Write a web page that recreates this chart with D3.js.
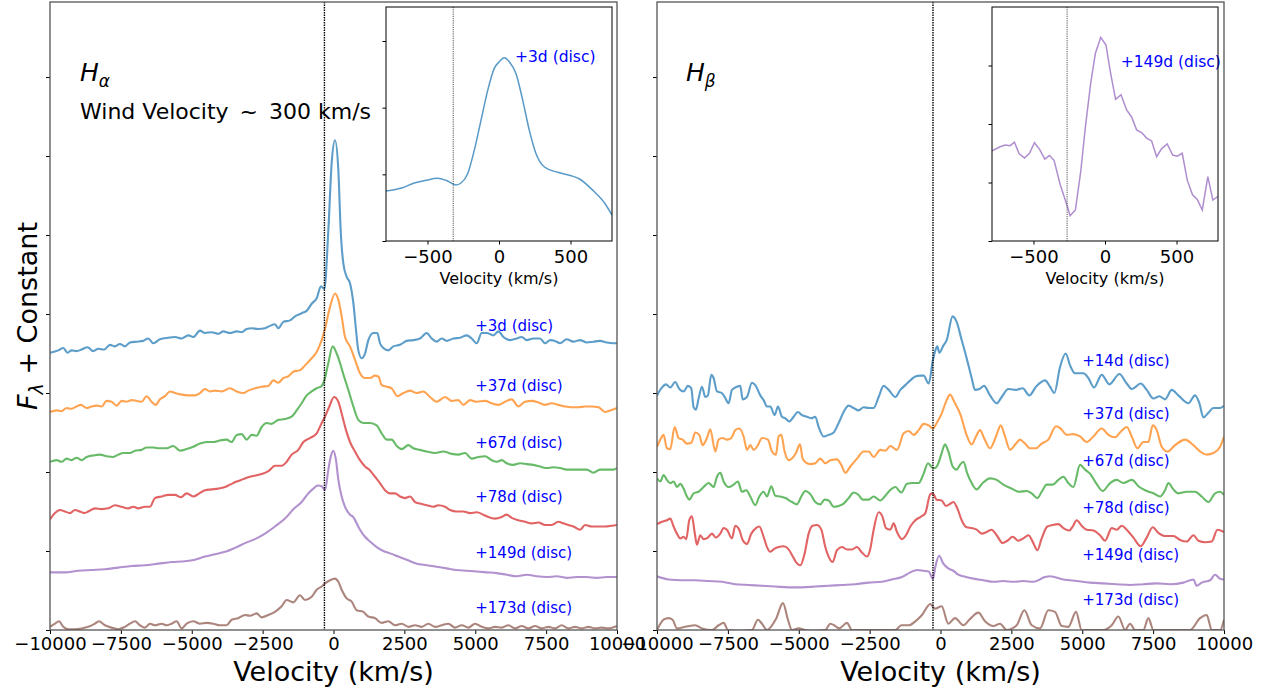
<!DOCTYPE html>
<html><head><meta charset="utf-8">
<script src="https://cdn.jsdelivr.net/npm/d3@7"></script>
<style>body{margin:0;background:#fff;} svg{display:block;font-family:"DejaVu Sans",sans-serif;}</style>
</head><body><svg id="c" width="1265" height="690"></svg>
<script>
// ---------------- DATA ----------------
const seriesColors = ["#1f77b4","#ff7f0e","#2ca02c","#d62728","#9467bd","#8c564b"];
const velTicks = [-10000,-7500,-5000,-2500,0,2500,5000,7500,10000];
const insetVelTicks = [-500,0,500];
const fluxTicks = [0,1,2,3,4,5,6,7];

// H-alpha epochs
const haLabels = ["+3d (disc)","+37d (disc)","+67d (disc)","+78d (disc)","+149d (disc)","+173d (disc)"];
const haLabelFlux = [3.78,3.02,2.31,1.62,0.91,0.21];
const haWind = -320;
const haDay3 = [[-10000,3.51],[-9708,3.54],[-9532,3.57],[-9379,3.51],[-9238,3.54],[-9062,3.53],[-8886,3.55],[-8674,3.58],[-8474,3.53],[-8297,3.56],[-8086,3.55],[-7886,3.61],[-7709,3.59],[-7533,3.62],[-7357,3.59],[-7180,3.64],[-6945,3.65],[-6710,3.66],[-6533,3.69],[-6357,3.63],[-6121,3.68],[-5827,3.70],[-5592,3.71],[-5357,3.69],[-5122,3.73],[-4945,3.71],[-4710,3.79],[-4534,3.76],[-4299,3.77],[-4063,3.75],[-3887,3.78],[-3652,3.76],[-3417,3.78],[-3240,3.77],[-3064,3.81],[-2887,3.82],[-2652,3.81],[-2417,3.82],[-2240,3.85],[-2064,3.87],[-1946,3.82],[-1770,3.90],[-1535,3.92],[-1358,3.97],[-1123,4.01],[-947,4.04],[-770,4.13],[-594,4.20],[-441,4.35],[-323,4.32],[-182,5.06],[-65,5.91],[53,6.20],[171,5.82],[253,5.06],[347,4.64],[465,4.47],[582,4.39],[700,4.14],[794,3.80],[876,3.54],[994,3.44],[1111,3.50],[1229,3.67],[1405,3.76],[1546,3.76],[1640,3.63],[1758,3.57],[1934,3.54],[2111,3.59],[2346,3.61],[2581,3.66],[2817,3.67],[3052,3.69],[3287,3.76],[3464,3.69],[3640,3.65],[3816,3.69],[3993,3.66],[4228,3.69],[4463,3.70],[4698,3.73],[4875,3.69],[5051,3.63],[5228,3.76],[5404,3.76],[5639,3.73],[5816,3.78],[5992,3.71],[6227,3.67],[6462,3.69],[6639,3.71],[6815,3.67],[7051,3.69],[7286,3.69],[7462,3.63],[7638,3.67],[7815,3.66],[7991,3.63],[8226,3.68],[8461,3.65],[8697,3.67],[8932,3.64],[9167,3.65],[9402,3.66],[9637,3.64],[9873,3.63],[10000,3.63]];
const haDay37 = [[-10000,2.76],[-9767,2.78],[-9591,2.77],[-9414,2.81],[-9238,2.80],[-9062,2.83],[-8909,2.85],[-8709,2.81],[-8533,2.83],[-8356,2.84],[-8180,2.83],[-8003,2.90],[-7827,2.89],[-7650,2.84],[-7474,2.90],[-7298,2.89],[-7121,2.91],[-6945,2.90],[-6768,2.89],[-6592,2.96],[-6416,2.89],[-6274,2.85],[-6121,2.92],[-5945,2.96],[-5768,3.02],[-5592,3.00],[-5357,2.98],[-5122,2.97],[-4886,2.97],[-4710,3.00],[-4534,3.05],[-4357,3.02],[-4181,3.03],[-3946,3.02],[-3652,3.06],[-3417,3.02],[-3181,3.00],[-3005,3.03],[-2770,3.06],[-2534,3.08],[-2299,3.09],[-2123,3.16],[-1946,3.13],[-1770,3.19],[-1593,3.21],[-1417,3.27],[-1182,3.29],[-1005,3.35],[-770,3.44],[-594,3.52],[-417,3.67],[-323,3.78],[-123,4.09],[53,4.26],[171,4.18],[288,3.97],[406,3.71],[582,3.59],[759,3.42],[935,3.25],[1111,3.19],[1288,3.19],[1464,3.22],[1582,3.21],[1699,3.10],[1876,3.08],[2052,3.06],[2252,2.96],[2464,3.00],[2699,3.03],[2934,3.00],[3170,3.02],[3405,2.95],[3640,2.89],[3934,2.95],[4169,2.90],[4404,2.91],[4581,2.85],[4816,2.91],[5051,2.89],[5345,2.90],[5580,2.87],[5816,2.85],[6051,2.89],[6286,2.92],[6521,2.83],[6756,2.89],[6992,2.90],[7227,2.88],[7462,2.85],[7697,2.87],[7933,2.85],[8168,2.83],[8403,2.82],[8638,2.82],[8873,2.83],[9109,2.83],[9344,2.82],[9579,2.76],[9755,2.78],[10000,2.81]];
const haDay67 = [[-10000,2.13],[-9767,2.15],[-9591,2.13],[-9414,2.17],[-9238,2.15],[-9062,2.18],[-8886,2.15],[-8709,2.19],[-8474,2.21],[-8239,2.22],[-8003,2.20],[-7768,2.19],[-7592,2.22],[-7415,2.24],[-7180,2.24],[-7004,2.27],[-6768,2.28],[-6592,2.31],[-6357,2.31],[-6121,2.30],[-5886,2.30],[-5651,2.33],[-5416,2.27],[-5180,2.29],[-4945,2.32],[-4710,2.36],[-4475,2.38],[-4240,2.38],[-4004,2.40],[-3769,2.41],[-3593,2.38],[-3417,2.47],[-3240,2.48],[-3064,2.41],[-2887,2.47],[-2711,2.46],[-2534,2.57],[-2358,2.62],[-2182,2.61],[-1946,2.66],[-1711,2.67],[-1476,2.70],[-1299,2.78],[-1123,2.87],[-947,2.97],[-770,3.02],[-594,3.06],[-417,3.09],[-323,3.16],[-182,3.38],[-29,3.59],[112,3.50],[229,3.38],[370,3.21],[523,3.04],[700,2.83],[876,2.66],[1052,2.62],[1288,2.62],[1523,2.59],[1699,2.49],[1876,2.41],[2052,2.41],[2229,2.33],[2405,2.29],[2640,2.34],[2817,2.30],[3052,2.28],[3287,2.26],[3581,2.24],[3875,2.26],[4169,2.23],[4404,2.22],[4639,2.24],[4875,2.17],[5110,2.19],[5345,2.20],[5580,2.15],[5757,2.13],[5933,2.15],[6110,2.11],[6345,2.09],[6580,2.11],[6815,2.10],[7051,2.09],[7286,2.07],[7521,2.05],[7756,2.06],[7991,2.05],[8226,2.03],[8462,2.03],[8697,2.03],[8932,2.03],[9167,1.99],[9402,2.03],[9637,2.03],[9873,2.03],[10000,2.05]];
const haDay78 = [[-10000,1.40],[-9826,1.48],[-9650,1.52],[-9473,1.50],[-9297,1.48],[-9120,1.52],[-8944,1.50],[-8791,1.48],[-8650,1.50],[-8415,1.54],[-8180,1.53],[-7944,1.54],[-7709,1.58],[-7474,1.56],[-7239,1.54],[-7062,1.56],[-6886,1.54],[-6651,1.56],[-6474,1.56],[-6298,1.67],[-6063,1.69],[-5827,1.71],[-5592,1.71],[-5380,1.68],[-5180,1.73],[-4945,1.69],[-4769,1.72],[-4534,1.77],[-4299,1.78],[-4063,1.79],[-3828,1.81],[-3652,1.84],[-3417,1.88],[-3181,1.91],[-2946,1.94],[-2711,1.96],[-2476,1.98],[-2299,2.01],[-2064,2.08],[-1829,2.08],[-1652,2.13],[-1476,2.22],[-1241,2.28],[-1064,2.38],[-829,2.43],[-594,2.49],[-417,2.62],[-300,2.70],[-147,2.83],[18,2.95],[171,2.89],[288,2.74],[441,2.53],[582,2.38],[759,2.26],[935,2.15],[1111,2.07],[1288,2.02],[1464,1.94],[1640,1.86],[1817,1.77],[1993,1.73],[2170,1.73],[2346,1.69],[2523,1.67],[2699,1.69],[2876,1.62],[3052,1.60],[3287,1.58],[3523,1.56],[3699,1.58],[3934,1.56],[4110,1.52],[4346,1.50],[4581,1.50],[4816,1.48],[5051,1.49],[5286,1.46],[5463,1.43],[5698,1.41],[5933,1.43],[6110,1.46],[6286,1.42],[6521,1.39],[6756,1.37],[6992,1.35],[7227,1.36],[7462,1.33],[7697,1.33],[7933,1.37],[8109,1.35],[8285,1.33],[8462,1.31],[8697,1.27],[8873,1.33],[9109,1.31],[9344,1.31],[9579,1.31],[9814,1.32],[10000,1.33]];
const haDay149 = [[-10000,0.73],[-9473,0.73],[-9003,0.75],[-8533,0.76],[-8062,0.77],[-7592,0.79],[-7121,0.81],[-6651,0.82],[-6180,0.84],[-5710,0.86],[-5240,0.87],[-4887,0.89],[-4534,0.93],[-4181,0.96],[-3828,0.99],[-3476,1.04],[-3123,1.10],[-2770,1.15],[-2417,1.22],[-2064,1.31],[-1711,1.41],[-1417,1.53],[-1123,1.62],[-888,1.73],[-711,1.79],[-559,1.83],[-417,1.82],[-300,1.77],[-182,2.03],[-100,2.19],[-6,2.27],[88,2.15],[171,1.90],[288,1.69],[406,1.56],[582,1.46],[700,1.43],[817,1.35],[935,1.27],[1111,1.18],[1288,1.12],[1523,1.05],[1758,1.00],[1993,0.97],[2287,0.93],[2581,0.89],[2934,0.84],[3287,0.82],[3640,0.80],[3993,0.78],[4346,0.76],[4698,0.75],[5051,0.74],[5404,0.73],[5757,0.72],[6110,0.70],[6462,0.68],[6815,0.70],[7168,0.68],[7521,0.67],[7874,0.68],[8226,0.66],[8579,0.67],[8932,0.67],[9285,0.66],[9637,0.67],[10000,0.67]];
const haDay173 = [[-10000,0.04],[-9826,0.08],[-9685,0.11],[-9532,0.04],[-9356,0.01],[-9120,0.01],[-8886,0.02],[-8650,0.04],[-8415,0.08],[-8274,0.11],[-8062,0.06],[-7827,0.03],[-7592,0.01],[-7356,0.04],[-7180,0.08],[-7004,0.11],[-6827,0.06],[-6651,0.03],[-6474,0.08],[-6298,0.06],[-6063,0.08],[-5886,0.06],[-5710,0.08],[-5533,0.11],[-5357,0.02],[-5180,0.08],[-4945,0.11],[-4710,0.08],[-4475,0.09],[-4240,0.08],[-4004,0.06],[-3769,0.06],[-3593,0.13],[-3358,0.15],[-3123,0.19],[-2946,0.18],[-2711,0.21],[-2534,0.16],[-2299,0.19],[-2064,0.23],[-1829,0.30],[-1652,0.38],[-1417,0.35],[-1182,0.44],[-1005,0.38],[-770,0.42],[-594,0.51],[-417,0.55],[-300,0.59],[-123,0.63],[53,0.65],[171,0.61],[288,0.51],[465,0.40],[641,0.36],[817,0.25],[1052,0.23],[1229,0.17],[1464,0.15],[1699,0.09],[1934,0.11],[2170,0.06],[2405,0.08],[2640,0.04],[2876,0.06],[3111,0.04],[3346,0.08],[3581,0.04],[3816,0.06],[4051,0.08],[4287,0.03],[4522,0.06],[4757,0.03],[4993,0.08],[5228,0.04],[5463,0.02],[5698,0.04],[5933,0.03],[6169,0.06],[6404,0.02],[6639,0.05],[6874,0.02],[7109,0.05],[7344,0.02],[7580,0.04],[7815,0.02],[8050,0.06],[8285,0.02],[8520,0.04],[8756,0.02],[8991,0.04],[9226,0.02],[9461,0.03],[9697,0.02],[9932,0.04],[10000,0.05]];
const haInset = [[-790,0.75],[-675,0.80],[-593,0.87],[-512,0.91],[-430,0.94],[-371,0.91],[-301,0.84],[-266,0.87],[-219,1.01],[-173,1.36],[-126,1.81],[-79,2.26],[-33,2.59],[2,2.69],[37,2.75],[72,2.69],[119,2.51],[166,2.11],[212,1.66],[259,1.31],[318,1.11],[411,1.03],[505,0.98],[563,0.93],[656,0.76],[738,0.57],[790,0.39]];
const haInsetLabel = "+3d (disc)";

// H-beta epochs
const hbLabels = ["+14d (disc)","+37d (disc)","+67d (disc)","+78d (disc)","+149d (disc)","+173d (disc)"];
const hbLabelFlux = [3.34,2.67,2.07,1.48,0.89,0.32];
const hbWind = -265;
const hbDay14 = [[-10000,2.97],[-9849,3.06],[-9684,3.11],[-9532,3.07],[-9356,3.14],[-9214,3.05],[-9062,3.02],[-8909,3.09],[-8791,3.06],[-8709,2.82],[-8627,2.79],[-8533,2.93],[-8415,3.08],[-8297,2.95],[-8203,2.97],[-8086,3.23],[-8003,3.19],[-7885,3.02],[-7709,3.00],[-7568,2.92],[-7474,2.87],[-7356,3.04],[-7180,3.08],[-7062,3.09],[-6980,2.92],[-6827,2.95],[-6651,3.13],[-6533,3.10],[-6357,2.97],[-6239,2.91],[-6121,2.83],[-6004,2.83],[-5851,2.72],[-5733,2.83],[-5592,2.70],[-5474,2.68],[-5333,2.64],[-5180,2.70],[-5028,2.76],[-4886,2.72],[-4710,2.70],[-4557,2.68],[-4416,2.70],[-4299,2.57],[-4122,2.45],[-3946,2.47],[-3769,2.50],[-3593,2.62],[-3417,2.76],[-3240,2.84],[-3064,2.81],[-2887,2.78],[-2711,2.82],[-2534,2.81],[-2358,2.81],[-2182,2.95],[-2005,3.09],[-1829,3.04],[-1593,2.95],[-1417,3.04],[-1241,3.10],[-1064,3.16],[-888,3.21],[-711,3.22],[-594,3.22],[-417,3.12],[-265,3.42],[-182,3.54],[-112,3.59],[-41,3.51],[100,3.60],[218,3.67],[429,3.97],[570,3.90],[747,3.67],[923,3.44],[1100,3.19],[1217,3.04],[1370,3.05],[1535,3.09],[1746,2.97],[1982,2.87],[2158,2.95],[2393,3.05],[2664,3.04],[2899,3.06],[3134,2.97],[3369,3.08],[3687,3.16],[3863,3.08],[4016,3.00],[4216,3.33],[4416,3.50],[4569,3.35],[4745,3.25],[5039,3.25],[5216,3.19],[5416,3.07],[5686,3.23],[5957,3.11],[6310,3.24],[6569,3.12],[6757,3.05],[7062,3.12],[7274,3.04],[7509,2.93],[7721,2.96],[7921,2.92],[8156,3.04],[8391,2.97],[8744,2.87],[8979,2.97],[9132,2.87],[9273,2.69],[9450,2.75],[9626,2.81],[9862,2.81],[10000,2.84]];
const hbDay37 = [[-10000,2.32],[-9884,2.41],[-9767,2.47],[-9650,2.30],[-9532,2.29],[-9379,2.57],[-9238,2.43],[-9097,2.41],[-8944,2.36],[-8791,2.37],[-8650,2.50],[-8509,2.47],[-8391,2.34],[-8239,2.43],[-8121,2.54],[-7944,2.26],[-7827,2.41],[-7686,2.43],[-7533,2.41],[-7380,2.43],[-7239,2.53],[-7098,2.55],[-6945,2.45],[-6827,2.28],[-6710,2.34],[-6592,2.28],[-6439,2.34],[-6298,2.43],[-6086,2.41],[-5945,2.26],[-5804,2.22],[-5710,2.45],[-5616,2.47],[-5498,2.26],[-5357,2.15],[-5239,2.17],[-5098,2.24],[-4957,2.35],[-4863,2.17],[-4745,2.12],[-4592,2.10],[-4416,2.11],[-4240,2.17],[-4063,2.11],[-3887,2.15],[-3652,2.16],[-3499,2.09],[-3358,1.99],[-3181,2.07],[-2946,2.17],[-2711,2.26],[-2534,2.26],[-2358,2.19],[-2123,2.28],[-1946,2.27],[-1770,2.33],[-1535,2.28],[-1299,2.49],[-1123,2.52],[-947,2.47],[-770,2.53],[-594,2.61],[-417,2.59],[-265,2.55],[-135,2.62],[41,2.74],[218,2.91],[335,2.98],[512,2.87],[711,2.72],[900,2.49],[1100,2.35],[1252,2.45],[1394,2.53],[1535,2.43],[1746,2.30],[1958,2.45],[2123,2.59],[2276,2.45],[2452,2.28],[2664,2.36],[2805,2.41],[2981,2.36],[3158,2.30],[3369,2.30],[3569,2.36],[3804,2.41],[4075,2.58],[4240,2.55],[4451,2.47],[4686,2.48],[4922,2.45],[5157,2.38],[5392,2.45],[5686,2.55],[5921,2.47],[6157,2.44],[6357,2.51],[6569,2.57],[6745,2.45],[6945,2.30],[7156,2.38],[7333,2.38],[7486,2.59],[7627,2.53],[7803,2.32],[8003,2.26],[8274,2.34],[8626,2.41],[8920,2.34],[9156,2.26],[9391,2.22],[9626,2.24],[9862,2.32],[10000,2.45]];
const hbDay67 = [[-10000,1.92],[-9884,1.88],[-9767,1.96],[-9650,1.90],[-9532,1.86],[-9414,1.88],[-9297,1.81],[-9179,1.85],[-9062,1.79],[-8944,1.69],[-8862,1.65],[-8709,1.73],[-8533,1.75],[-8356,1.81],[-8180,1.86],[-8003,1.81],[-7885,1.94],[-7768,1.99],[-7650,1.88],[-7474,1.81],[-7298,1.84],[-7145,1.88],[-7004,1.75],[-6851,1.77],[-6710,1.69],[-6533,1.58],[-6392,1.69],[-6239,1.75],[-6121,1.69],[-5968,1.82],[-5827,1.70],[-5651,1.69],[-5474,1.67],[-5239,1.62],[-5063,1.59],[-4910,1.69],[-4769,1.76],[-4592,1.72],[-4416,1.62],[-4240,1.59],[-4087,1.65],[-3946,1.64],[-3769,1.56],[-3593,1.57],[-3417,1.60],[-3240,1.67],[-3064,1.74],[-2887,1.71],[-2746,1.65],[-2534,1.65],[-2358,1.69],[-2123,1.64],[-1946,1.70],[-1805,1.76],[-1593,1.81],[-1382,1.74],[-1182,1.85],[-982,1.86],[-770,1.86],[-594,1.98],[-441,2.11],[-265,2.05],[-194,2.05],[-76,2.11],[41,2.24],[159,2.35],[276,2.26],[429,2.07],[570,2.03],[688,2.09],[806,2.13],[947,1.98],[1100,1.86],[1276,1.78],[1488,1.86],[1746,1.92],[1982,1.90],[2217,1.84],[2511,1.79],[2781,1.75],[3040,1.76],[3216,1.73],[3416,1.67],[3569,1.75],[3746,1.84],[3957,1.84],[4157,1.90],[4334,1.94],[4510,1.86],[4686,1.81],[4922,2.09],[5098,2.03],[5274,1.98],[5486,1.86],[5721,1.76],[5980,1.86],[6216,1.90],[6451,1.86],[6745,1.90],[7015,1.81],[7274,1.76],[7509,1.73],[7744,1.69],[7921,1.77],[8038,1.86],[8215,1.78],[8391,1.73],[8685,1.75],[8979,1.75],[9214,1.69],[9450,1.62],[9685,1.73],[9862,1.75],[10000,1.71]];
const hbDay78 = [[-10000,1.34],[-9826,1.37],[-9650,1.39],[-9532,1.41],[-9414,1.31],[-9297,1.22],[-9179,1.16],[-9062,1.18],[-8968,1.15],[-8862,1.39],[-8768,1.44],[-8674,1.24],[-8591,1.08],[-8474,1.20],[-8356,1.15],[-8203,1.17],[-8062,1.22],[-7921,1.17],[-7768,1.22],[-7650,1.29],[-7533,1.27],[-7356,1.16],[-7239,1.32],[-7098,1.27],[-6980,1.14],[-6827,1.09],[-6674,1.22],[-6510,1.29],[-6392,1.31],[-6239,1.18],[-6121,1.05],[-6004,0.99],[-5851,1.03],[-5710,1.05],[-5533,1.06],[-5380,1.03],[-5239,0.95],[-5098,0.86],[-4945,0.82],[-4792,0.97],[-4651,1.22],[-4510,1.32],[-4357,1.33],[-4204,1.27],[-4063,1.05],[-3922,0.91],[-3805,0.86],[-3652,1.01],[-3476,1.05],[-3299,1.02],[-3123,1.02],[-2946,1.05],[-2770,0.98],[-2593,0.93],[-2476,1.03],[-2358,1.27],[-2182,1.49],[-2041,1.43],[-1923,1.29],[-1770,1.27],[-1652,1.35],[-1535,1.24],[-1358,1.15],[-1217,1.20],[-1064,1.31],[-888,1.39],[-711,1.43],[-535,1.48],[-359,1.72],[-276,1.73],[-135,1.65],[41,1.64],[194,1.57],[312,1.59],[453,1.62],[594,1.54],[747,1.39],[923,1.30],[1100,1.29],[1276,1.27],[1452,1.22],[1629,1.24],[1805,1.27],[1982,1.20],[2193,1.10],[2358,1.13],[2546,1.18],[2746,1.13],[2922,1.16],[3099,1.20],[3275,1.10],[3416,1.01],[3569,1.16],[3769,1.31],[3957,1.33],[4157,1.34],[4334,1.29],[4545,1.26],[4663,1.31],[4804,1.39],[4980,1.32],[5157,1.27],[5392,1.26],[5627,1.20],[5804,1.13],[6039,1.29],[6216,1.27],[6392,1.32],[6569,1.27],[6804,1.17],[7062,1.06],[7274,1.17],[7486,1.30],[7686,1.23],[7921,1.19],[8215,1.19],[8450,1.14],[8685,1.12],[8920,1.20],[9097,1.13],[9332,1.11],[9567,1.12],[9767,1.27],[10000,1.24]];
const hbDay149 = [[-10000,0.68],[-9591,0.64],[-9120,0.63],[-8650,0.63],[-8180,0.62],[-7709,0.61],[-7239,0.58],[-6768,0.57],[-6298,0.56],[-5827,0.55],[-5357,0.54],[-4887,0.54],[-4416,0.55],[-3946,0.56],[-3476,0.57],[-3005,0.58],[-2534,0.60],[-2064,0.61],[-1711,0.64],[-1358,0.67],[-1064,0.73],[-829,0.76],[-594,0.75],[-417,0.74],[-265,0.65],[-182,0.80],[-50,0.94],[100,0.84],[276,0.78],[453,0.75],[629,0.70],[806,0.68],[1158,0.65],[1511,0.63],[1864,0.61],[2217,0.62],[2570,0.61],[2922,0.62],[3275,0.61],[3687,0.67],[3863,0.68],[4334,0.64],[4804,0.62],[5274,0.60],[5745,0.59],[6216,0.58],[6686,0.57],[7156,0.58],[7627,0.59],[8097,0.58],[8567,0.60],[8920,0.64],[9038,0.56],[9214,0.60],[9508,0.63],[9685,0.70],[9862,0.65],[10000,0.64]];
const hbDay173 = [[-10000,0.00],[-9767,0.13],[-9591,0.15],[-9450,0.13],[-9297,0.02],[-9003,0.04],[-8650,0.06],[-8415,0.02],[-8062,0.00],[-7827,0.06],[-7650,0.09],[-7498,0.00],[-7121,-0.01],[-6651,0.00],[-6439,0.13],[-6298,0.08],[-6121,0.00],[-5804,0.14],[-5557,0.34],[-5380,0.13],[-5239,0.00],[-5004,0.02],[-4769,0.00],[-4534,-0.01],[-4063,0.00],[-3887,0.08],[-3710,0.05],[-3570,0.02],[-3299,0.09],[-3123,0.00],[-2652,0.00],[-2064,0.00],[-1593,0.00],[-1382,0.06],[-1123,0.06],[-888,0.11],[-653,0.19],[-359,0.33],[-194,0.27],[41,0.30],[276,0.08],[512,0.15],[806,0.06],[1041,0.14],[1335,0.22],[1570,0.11],[1864,0.05],[2099,0.08],[2334,0.00],[2687,0.06],[2958,0.25],[3216,0.06],[3510,0.02],[3804,0.25],[4039,0.23],[4275,0.05],[4510,0.04],[4780,0.23],[4981,0.00],[5274,0.00],[5745,0.00],[6039,0.06],[6274,0.17],[6510,0.00],[6686,0.08],[6862,0.00],[7156,0.00],[7333,0.15],[7509,0.00],[7862,0.00],[8333,0.00],[8567,0.00],[8803,0.00],[9156,0.15],[9391,0.19],[9567,0.00],[9862,0.00],[10000,0.13]];
const hbInset = [[-790,1.54],[-733,1.61],[-698,1.64],[-663,1.63],[-633,1.69],[-600,1.49],[-563,1.42],[-528,1.50],[-493,1.68],[-458,1.57],[-421,1.40],[-388,1.46],[-356,1.38],[-314,0.97],[-263,0.59],[-244,0.43],[-207,0.53],[-170,1.18],[-137,1.95],[-100,2.70],[-67,3.21],[-30,3.48],[7,3.35],[39,2.87],[74,2.42],[112,2.50],[151,2.24],[186,2.12],[221,1.90],[258,1.85],[291,1.76],[326,1.71],[361,1.44],[396,1.58],[435,1.66],[473,1.47],[505,1.45],[540,1.50],[575,1.04],[612,0.79],[645,0.71],[680,0.53],[719,1.10],[754,0.70],[789,0.76]];
const hbInsetLabel = "+149d (disc)";

// ---------------- DRAW ----------------
const svg = d3.select("#c");
const fmt = d => (d < 0 ? "\u2212" : "") + Math.abs(d);
const TOP = 2, BOTTOM = 630;

function drawPanel(o) {
  const g = svg.append("g");
  const x = d3.scaleLinear().domain([-10000, 10000]).range([o.left, o.right]);
  const y = d3.scaleLinear().domain([0, 7.95]).range([BOTTOM, TOP]);
  const clipId = "clip" + o.id;
  svg.append("clipPath").attr("id", clipId).append("rect")
    .attr("x", o.left).attr("y", TOP).attr("width", o.right - o.left).attr("height", BOTTOM - TOP);
  const line = d3.line().x(d => x(d[0])).y(d => y(d[1])).curve(d3.curveMonotoneX);
  const cg = g.append("g").attr("clip-path", `url(#${clipId})`);
  o.series.forEach((s, i) => {
    cg.append("path").attr("d", line(s)).attr("fill", "none")
      .attr("stroke", seriesColors[i]).attr("stroke-opacity", 0.72).attr("stroke-width", 2.1)
      .attr("stroke-linejoin", "round");
  });
  g.append("line").attr("x1", x(o.wind)).attr("x2", x(o.wind)).attr("y1", TOP).attr("y2", BOTTOM)
    .attr("stroke", "#000").attr("stroke-width", 1.4).attr("stroke-dasharray", "1.4,1.1");
  o.labels.forEach((t, i) => {
    g.append("text").attr("x", x(5000)).attr("y", y(o.labelFlux[i]))
      .attr("fill", "#0000ff").attr("font-size", 15).text(t);
  });
  const ax = g.append("g").attr("transform", `translate(0,${BOTTOM})`)
    .call(d3.axisBottom(x).tickValues(velTicks).tickFormat(fmt).tickSize(4).tickPadding(3));
  ax.select(".domain").remove();
  ax.selectAll("text").attr("font-size", 18).attr("font-family", "DejaVu Sans").attr("fill", "#000");
  ax.selectAll("line").attr("stroke", "#000").attr("stroke-width", 1);
  const ay = g.append("g").attr("transform", `translate(${o.left},0)`)
    .call(d3.axisLeft(y).tickValues(fluxTicks).tickFormat("").tickSize(4));
  ay.select(".domain").remove();
  ay.selectAll("line").attr("stroke", "#000").attr("stroke-width", 1);
  g.append("rect").attr("x", o.left).attr("y", TOP).attr("width", o.right - o.left).attr("height", BOTTOM - TOP)
    .attr("fill", "none").attr("stroke", "#555").attr("stroke-width", 1.3);
  g.append("text").attr("x", (o.left + o.right) / 2).attr("y", 681).attr("text-anchor", "middle")
    .attr("font-size", 27).text("Velocity (km/s)");
  const ht = g.append("text").attr("x", o.titleX).attr("y", 81).attr("font-size", 25);
  ht.append("tspan").attr("font-style", "italic").text("H");
  ht.append("tspan").attr("font-style", "italic").attr("font-size", 17).attr("dy", 6).text(o.greek);
  return {x, y};
}

function drawInset(o) {
  const g = svg.append("g");
  const x = d3.scaleLinear().domain([-790, 790]).range([o.left, o.right]);
  const y = d3.scaleLinear().domain([0, o.ymax]).range([o.bottom, o.top]);
  g.append("rect").attr("x", o.left).attr("y", o.top).attr("width", o.right - o.left).attr("height", o.bottom - o.top)
    .attr("fill", "#fff");
  const clipId = "iclip" + o.id;
  svg.append("clipPath").attr("id", clipId).append("rect")
    .attr("x", o.left).attr("y", o.top).attr("width", o.right - o.left).attr("height", o.bottom - o.top);
  const line = d3.line().x(d => x(d[0])).y(d => y(d[1])).curve(o.curve);
  g.append("path").attr("clip-path", `url(#${clipId})`).attr("d", line(o.data)).attr("fill", "none")
    .attr("stroke", o.color).attr("stroke-opacity", 0.75).attr("stroke-width", 1.5);
  g.append("line").attr("x1", x(o.wind)).attr("x2", x(o.wind)).attr("y1", o.top).attr("y2", o.bottom)
    .attr("stroke", "#555").attr("stroke-width", 1).attr("stroke-dasharray", "1.2,1");
  g.append("text").attr("x", x(o.labelVel)).attr("y", y(o.labelFlux)).attr("fill", "#0000ff")
    .attr("font-size", 15.5).text(o.label);
  const ax = g.append("g").attr("transform", `translate(0,${o.bottom})`)
    .call(d3.axisBottom(x).tickValues(insetVelTicks).tickFormat(fmt).tickSize(3.5).tickPadding(6));
  ax.select(".domain").remove();
  ax.selectAll("text").attr("font-size", 18).attr("font-family", "DejaVu Sans").attr("fill", "#000");
  const ay = g.append("g").attr("transform", `translate(${o.left},0)`)
    .call(d3.axisLeft(y).tickValues([0,1,2,3]).tickFormat("").tickSize(3.5));
  ay.select(".domain").remove();
  g.append("rect").attr("x", o.left).attr("y", o.top).attr("width", o.right - o.left).attr("height", o.bottom - o.top)
    .attr("fill", "none").attr("stroke", "#000").attr("stroke-width", 1);
  g.append("text").attr("x", (o.left + o.right) / 2).attr("y", 284).attr("text-anchor", "middle")
    .attr("font-size", 16).text("Velocity (km/s)");
}

drawPanel({id: "a", left: 50, right: 617, series: [haDay3, haDay37, haDay67, haDay78, haDay149, haDay173],
  labels: haLabels, labelFlux: haLabelFlux, wind: haWind, titleX: 80, greek: "\u03b1"});
drawPanel({id: "b", left: 657, right: 1224, series: [hbDay14, hbDay37, hbDay67, hbDay78, hbDay149, hbDay173],
  labels: hbLabels, labelFlux: hbLabelFlux, wind: hbWind, titleX: 686, greek: "\u03b2"});

svg.append("text").attr("x", 80).attr("y", 119).attr("font-size", 22)
  .text("Wind Velocity\u2002~\u2002300 km/s");

const yl = svg.append("text").attr("transform", "translate(37,316) rotate(-90)")
  .attr("text-anchor", "middle").attr("font-size", 27);
yl.append("tspan").attr("font-style", "italic").text("F");
yl.append("tspan").attr("font-style", "italic").attr("font-size", 19).attr("dy", 6).text("\u03bb");
yl.append("tspan").attr("dy", -6).text(" + Constant");

drawInset({id: "a", left: 386, right: 612, top: 7, bottom: 241, ymax: 3.51, data: haInset, color: seriesColors[0],
  wind: haWind, label: haInsetLabel, labelVel: 112, labelFlux: 2.69, curve: d3.curveMonotoneX});
drawInset({id: "b", left: 992, right: 1218, top: 7, bottom: 241, ymax: 4.0, data: hbInset, color: seriesColors[4],
  wind: hbWind, label: hbInsetLabel, labelVel: 110, labelFlux: 2.98, curve: d3.curveLinear});
</script></body></html>
